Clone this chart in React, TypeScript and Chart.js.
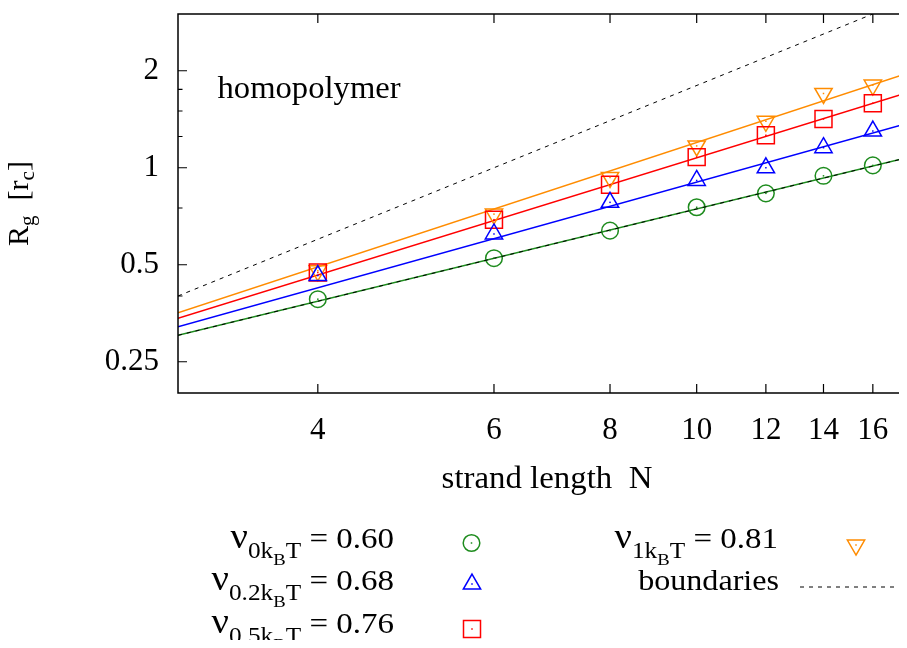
import React, { useEffect, useRef } from 'react';
import { Chart, registerables } from 'chart.js';

Chart.register(...registerables);

const FONT = "'Liberation Serif', 'Times New Roman', serif";

// strand lengths (categories)
const strandN = [4, 6, 8, 10, 12, 14, 16];
// measured radius of gyration for each interaction strength
const rg0 = [0.391, 0.524, 0.638, 0.754, 0.833, 0.944, 1.017];
const rg02 = [0.463, 0.623, 0.781, 0.913, 1.0, 1.154, 1.3];
const rg05 = [0.473, 0.69, 0.885, 1.079, 1.261, 1.417, 1.586];
const rg1 = [0.479, 0.718, 0.933, 1.169, 1.394, 1.7, 1.805];

// fitted power-law lines (end points read at the plot edges)
const fitN = [3, 18];
const fit0 = [0.302, 1.091];
const fit02 = [0.321, 1.396];
const fit05 = [0.341, 1.742];
const fit1 = [0.355, 2.004];

// boundaries
const boundUpperN = [3, 16];
const boundUpper = [0.4, 3.0];
const boundLowerN = [3, 18];
const boundLower = [0.302, 1.091];

// axis ticks
const xTickN = [4, 6, 8, 10, 12, 14, 16];
const yMajorTicks = [0.25, 0.5, 1, 2];
const yMinorTicks = [0.4, 0.75, 1.25, 1.5, 1.75];

// texts
const xTitle = 'strand length  N';
const plotLabel = 'homopolymer';
const nuSubs = ['0', '0.2', '0.5', '1'];
const nuValues = ['0.60', '0.68', '0.76', '0.81'];
const boundaryLabel = 'boundaries';

const GREEN = '#1e8c1e';
const BLUE = '#0000ff';
const RED = '#ff0000';
const ORANGE = '#ff8c00';

type Seg = { t: string; size: number; dy: number };

function drawRich(
  ctx: CanvasRenderingContext2D,
  segs: Seg[],
  x: number,
  y: number,
  align: 'left' | 'right' | 'center',
  sx = 1
) {
  let total = 0;
  const widths = segs.map((s) => {
    ctx.font = `${s.size}px ${FONT}`;
    const w = ctx.measureText(s.t).width * sx;
    total += w;
    return w;
  });
  let cx = align === 'right' ? x - total : align === 'center' ? x - total / 2 : x;
  ctx.textAlign = 'left';
  ctx.textBaseline = 'alphabetic';
  segs.forEach((s, i) => {
    ctx.font = `${s.size}px ${FONT}`;
    ctx.save();
    ctx.translate(cx, y + s.dy);
    ctx.scale(sx, 1);
    ctx.fillText(s.t, 0, 0);
    ctx.restore();
    cx += widths[i];
  });
}

function drawMarker(ctx: CanvasRenderingContext2D, style: string, x: number, y: number, color: string) {
  ctx.save();
  ctx.strokeStyle = color;
  ctx.fillStyle = color;
  ctx.lineWidth = 1.5;
  ctx.beginPath();
  const r = 10;
  if (style === 'circle') {
    ctx.arc(x, y, 8.3, 0, Math.PI * 2);
  } else if (style === 'triUp') {
    ctx.moveTo(x, y - r);
    ctx.lineTo(x + 0.866 * r, y + 0.5 * r);
    ctx.lineTo(x - 0.866 * r, y + 0.5 * r);
    ctx.closePath();
  } else if (style === 'triDown') {
    ctx.moveTo(x, y + r);
    ctx.lineTo(x + 0.866 * r, y - 0.5 * r);
    ctx.lineTo(x - 0.866 * r, y - 0.5 * r);
    ctx.closePath();
  } else {
    ctx.rect(x - 8.5, y - 8.5, 17, 17);
  }
  ctx.stroke();
  ctx.fillRect(x - 0.75, y - 0.75, 1.5, 1.5);
  ctx.restore();
}

const legendRow = (sub: string, val: string): Seg[] => [
  { t: 'ν', size: 35, dy: 0 },
  { t: sub, size: 23, dy: 10 },
  { t: 'k', size: 23, dy: 10 },
  { t: 'B', size: 17, dy: 17 },
  { t: 'T', size: 23, dy: 10 },
  { t: ' = ' + val, size: 30, dy: 0 },
];

const framePlugin = {
  id: 'frameTicks',
  afterDatasetsDraw(chart: any) {
    const { ctx, chartArea, scales } = chart;
    const { left, top, right, bottom } = chartArea;
    const x = scales.x;
    const y = scales.y;
    ctx.save();
    ctx.strokeStyle = '#000';
    ctx.lineWidth = 1.5;
    ctx.beginPath();
    ctx.rect(left, top, right - left, bottom - top);
    ctx.stroke();
    ctx.lineWidth = 1.2;
    ctx.beginPath();
    xTickN.forEach((n) => {
      const px = x.getPixelForValue(n - 1);
      ctx.moveTo(px, bottom);
      ctx.lineTo(px, bottom - 9);
      ctx.moveTo(px, top);
      ctx.lineTo(px, top + 9);
    });
    yMajorTicks.forEach((v) => {
      const py = y.getPixelForValue(v);
      ctx.moveTo(left, py);
      ctx.lineTo(left + 9, py);
      ctx.moveTo(right, py);
      ctx.lineTo(right - 9, py);
    });
    yMinorTicks.forEach((v) => {
      const py = y.getPixelForValue(v);
      ctx.moveTo(left, py);
      ctx.lineTo(left + 4.5, py);
      ctx.moveTo(right, py);
      ctx.lineTo(right - 4.5, py);
    });
    ctx.stroke();

    // center dots of markers
    chart.data.datasets.forEach((ds: any, i: number) => {
      if (!ds.isMarker) return;
      const meta = chart.getDatasetMeta(i);
      ctx.fillStyle = ds.borderColor;
      meta.data.forEach((pt: any) => {
        ctx.fillRect(pt.x - 0.75, pt.y - 0.75, 1.5, 1.5);
      });
    });
    ctx.restore();
  },
  afterDraw(chart: any) {
    const ctx: CanvasRenderingContext2D = chart.ctx;
    const { chartArea } = chart;
    ctx.save();
    ctx.fillStyle = '#000';
    // in-plot label
    drawRich(ctx, [{ t: plotLabel, size: 32, dy: 0 }], 209.5, 89.5, 'left', 1.02);

    // x axis title
    drawRich(ctx, [{ t: xTitle, size: 31, dy: 0 }], (chartArea.left + chartArea.right) / 2, 479.5, 'center', 1.06);

    // y axis title (rotated)
    ctx.save();
    ctx.translate(20, (chartArea.top + chartArea.bottom) / 2);
    ctx.rotate(-Math.PI / 2);
    drawRich(
      ctx,
      [
        { t: 'R', size: 30, dy: 0 },
        { t: 'g', size: 21, dy: 6 },
        { t: '  [r', size: 30, dy: 0 },
        { t: 'c', size: 21, dy: 6 },
        { t: ']', size: 30, dy: 0 },
      ],
      0,
      0,
      'center'
    );
    ctx.restore();

    // legend
    ctx.fillStyle = '#000';
    const sx = 1.1;
    drawRich(ctx, legendRow(nuSubs[0], nuValues[0]), 386, 540, 'right', sx);
    drawRich(ctx, legendRow(nuSubs[1], nuValues[1]), 386, 582, 'right', sx);
    drawRich(ctx, legendRow(nuSubs[2], nuValues[2]), 386, 625, 'right', sx);
    drawRich(ctx, legendRow(nuSubs[3], nuValues[3]), 770, 540, 'right', sx);
    drawRich(ctx, [{ t: boundaryLabel, size: 30, dy: 0 }], 771, 582, 'right', 1.07);

    drawMarker(ctx, 'circle', 463.5, 535, GREEN);
    drawMarker(ctx, 'triUp', 464, 576, BLUE);
    drawMarker(ctx, 'square', 464, 621, RED);
    drawMarker(ctx, 'triDown', 848, 537, ORANGE);

    ctx.strokeStyle = '#000';
    ctx.lineWidth = 1;
    ctx.setLineDash([4, 5]);
    ctx.beginPath();
    ctx.moveTo(792, 579);
    ctx.lineTo(910, 579);
    ctx.stroke();
    ctx.restore();
  },
};

const toPts = (ns: number[], vs: number[]) => ns.map((n, i) => ({ x: n - 1, y: vs[i] }));

export default function App() {
  const canvasRef = useRef<HTMLCanvasElement | null>(null);

  useEffect(() => {
    const canvas = canvasRef.current;
    if (!canvas) return;

    const markerDs = (data: number[], color: string, style: string, radius: number, rotation = 0) => ({
      type: 'line' as const,
      data: toPts(strandN, data),
      showLine: false,
      borderColor: color,
      backgroundColor: 'rgba(0,0,0,0)',
      pointStyle: style,
      pointRadius: radius,
      pointRotation: rotation,
      pointBorderWidth: 1.5,
      pointBorderColor: color,
      pointBackgroundColor: 'rgba(0,0,0,0)',
      isMarker: true,
    });
    const fitDs = (data: number[], color: string) => ({
      type: 'line' as const,
      data: toPts(fitN, data),
      borderColor: color,
      borderWidth: 1.5,
      pointRadius: 0,
      fill: false,
    });

    const chart = new Chart(canvas, {
      type: 'line',
      data: {
        datasets: [
          {
            data: toPts(boundUpperN, boundUpper),
            borderColor: '#000',
            borderWidth: 1,
            borderDash: [4, 5],
            pointRadius: 0,
            fill: false,
          },
          {
            data: toPts(boundLowerN, boundLower),
            borderColor: '#000',
            borderWidth: 1,
            borderDash: [4, 5],
            pointRadius: 0,
            fill: false,
          },
          markerDs(rg0, GREEN, 'circle', 8.3),
          markerDs(rg02, BLUE, 'triangle', 10),
          markerDs(rg05, RED, 'rect', 12),
          markerDs(rg1, ORANGE, 'triangle', 10, 180),
          fitDs(fit0, GREEN),
          fitDs(fit02, BLUE),
          fitDs(fit05, RED),
          fitDs(fit1, ORANGE),
        ] as any,
      },
      options: {
        animation: false,
        responsive: false,
        maintainAspectRatio: false,
        events: [],
        layout: { autoPadding: false, padding: { top: 6, right: 2, left: 0, bottom: 0 } },
        plugins: { legend: { display: false }, tooltip: { enabled: false } },
        scales: {
          x: {
            type: 'logarithmic',
            position: 'bottom',
            min: 2,
            max: 17,
            afterBuildTicks: (s: any) => {
              s.ticks = xTickN.map((n) => ({ value: n - 1 }));
            },
            afterFit: (s: any) => {
              s.height = 247;
              s.paddingLeft = 0;
              s.paddingRight = 0;
            },
            grid: { display: false, drawTicks: false },
            border: { display: false },
            ticks: {
              autoSkip: false,
              maxRotation: 0,
              padding: 19,
              color: '#000',
              font: { family: FONT, size: 31 },
              callback: (v: any) => String(Number(v) + 1),
            },
          },
          y: {
            type: 'logarithmic',
            min: 0.2,
            max: 3,
            afterBuildTicks: (s: any) => {
              s.ticks = yMajorTicks.map((v) => ({ value: v }));
            },
            afterFit: (s: any) => {
              s.width = 170;
              s.paddingTop = 0;
              s.paddingBottom = 0;
            },
            grid: { display: false, drawTicks: false },
            border: { display: false },
            ticks: {
              autoSkip: false,
              padding: 19,
              color: '#000',
              font: { family: FONT, size: 31 },
              callback: (v: any) => String(Number(v)),
            },
          },
        },
      } as any,
      plugins: [framePlugin],
    });

    return () => chart.destroy();
  }, []);

  return (
    <div style={{ width: 899, height: 632, overflow: 'hidden' }}>
      <canvas ref={canvasRef} width={910} height={632} style={{ display: 'block', width: 910, height: 632 }} />
    </div>
  );
}
